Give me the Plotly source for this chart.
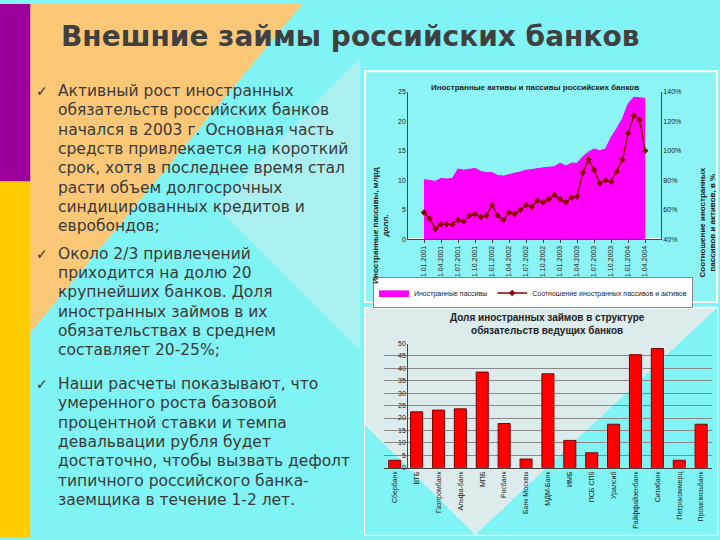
import plotly.graph_objects as go

# top chart: monthly data Jan 2001 - Apr 2004
months = [f"01.{m:02d}.{y}" for y in (2001, 2002, 2003, 2004) for m in range(1, 13)][:40]
liabilities = [10.1, 10.0, 9.8, 10.3, 10.2, 10.3, 11.9, 11.7, 11.9, 12.0,
               11.5, 11.3, 11.3, 10.8, 10.7, 11.0, 11.2, 11.4, 11.7, 11.8,
               12.0, 12.1, 12.2, 12.3, 12.9, 12.4, 12.9, 12.9, 14.0, 14.8,
               15.3, 15.0, 15.3, 17.3, 18.8, 20.5, 23.0, 24.1, 24.0, 23.9]
ratio = [58, 54, 47, 50, 50, 50, 53, 52, 56, 57,
         55, 56, 63, 56, 53, 58, 57, 60, 63, 62,
         66, 65, 67, 70, 67, 65, 68, 69, 85, 94,
         87, 78, 80, 79, 86, 94, 112, 124, 121, 100]
tick_months = months[::3]

# bottom chart
banks = ["Сбербанк", "ВТБ", "Газпромбанк", "Альфа-банк", "МПБ", "Росбанк",
         "Банк Москвы", "МДМ-Банк", "ИМБ", "ПСБ СПб", "Уралсиб",
         "Райффайзенбанк", "Ситибанк", "Петрокоммерц", "Промсвязьбанк"]
foreign_share = [3, 22.5, 23.2, 23.7, 38.5, 17.8, 3.5, 37.8, 11, 6, 17.5, 45.5, 48, 3, 17.5]

title = "Внешние займы российских банков"
bullets = [
    ["Активный рост иностранных", "обязательств российских банков", "начался в 2003 г. Основная часть",
     "средств привлекается на короткий", "срок, хотя в последнее время стал", "расти объем долгосрочных",
     "синдицированных кредитов и", "евробондов;"],
    ["Около 2/3 привлечений", "приходится на долю 20", "крупнейших банков. Доля", "иностранных займов в их",
     "обязательствах в среднем", "составляет 20-25%;"],
    ["Наши расчеты показывают, что", "умеренного роста базовой", "процентной ставки и темпа",
     "девальвации рубля будет", "достаточно, чтобы вызвать дефолт", "типичного российского банка-",
     "заемщика в течение 1-2 лет."],
]
bullet_y = [88, 253, 385]

fig = go.Figure()
fig.add_trace(go.Scatter(x=months, y=liabilities, fill="tozeroy", mode="lines",
                         line=dict(color="#ee00ee", width=1), fillcolor="#ff00ff",
                         name="Иностранные пассивы", xaxis="x", yaxis="y"))
fig.add_trace(go.Scatter(x=months, y=ratio, mode="lines+markers",
                         line=dict(color="#8b0000", width=1.5),
                         marker=dict(symbol="diamond", size=5, color="#8b0000"),
                         name="Соотношение иностранных пассивов и активов",
                         xaxis="x", yaxis="y2"))
fig.add_trace(go.Bar(x=banks, y=foreign_share, marker=dict(color="#ff0000", line=dict(color="#800000", width=1)),
                     width=0.55, showlegend=False, xaxis="x3", yaxis="y3"))

shapes = [
    dict(type="rect", xref="paper", yref="paper", x0=0, x1=1, y0=0, y1=1,
         fillcolor="#80f4f4", line_width=0, layer="below"),
    dict(type="path", xref="paper", yref="paper", path="M 0.04 1 L 0.42 1 L 0.04 0.38 Z",
         fillcolor="#fcc878", line_width=0, layer="below"),
    dict(type="path", xref="paper", yref="paper", path="M 0.30 0.62 L 0.5 0.9 L 0.5 0.35 Z",
         fillcolor="#c8ecec", line_width=0, layer="below", opacity=0.6),
    dict(type="rect", xref="paper", yref="paper", x0=0, x1=0.042, y0=0.667, y1=1,
         fillcolor="#9b009b", line_width=0, layer="below"),
    dict(type="rect", xref="paper", yref="paper", x0=0, x1=0.042, y0=0, y1=0.667,
         fillcolor="#ffcc00", line_width=0, layer="below"),
    # chart boxes
    dict(type="rect", xref="paper", yref="paper", x0=0.507, x1=0.996, y0=0.441, y1=0.874,
         fillcolor="#8cf4f4", line=dict(color="white", width=2), layer="below"),
    dict(type="rect", xref="paper", yref="paper", x0=0.507, x1=0.996, y0=0.004, y1=0.430,
         fillcolor="#dcebeb", line=dict(color="white", width=2), layer="below"),
    dict(type="path", xref="paper", yref="paper", path="M 0.507 0.21 L 0.507 0.004 L 0.66 0.004 Z",
         fillcolor="#80f4f4", line_width=0, layer="below"),
    dict(type="path", xref="paper", yref="paper", path="M 0.66 0.004 L 0.996 0.43 L 0.996 0.004 Z",
         fillcolor="#80f4f4", line_width=0, layer="below"),
]

small = dict(family="Liberation Sans", size=8, color="#222")
annotations = [
    dict(text=f"<b>{title}</b>", x=0.486, y=1 - 33 / 540, xref="paper", yref="paper", showarrow=False,
         xanchor="center", yanchor="middle", font=dict(family="DejaVu Sans", size=28, color="#404040")),
    dict(text="<b>Иностранные активы и пассивы российских банков</b>", x=0.743, y=0.855,
         xref="paper", yref="paper", xanchor="center", showarrow=False, font=small),
    dict(text="<b>Доля иностранных займов в структуре<br>обязательств ведущих банков</b>", x=0.76, y=0.425,
         xref="paper", yref="paper", showarrow=False, yanchor="top", xanchor="center",
         font=dict(family="Liberation Sans", size=10, color="#222")),
    dict(text="<b>Иностранные пассивы, млрд<br>долл.</b>", x=0.528, y=0.697, xref="paper", yref="paper",
         textangle=-90, showarrow=False, xanchor="center", font=small),
    dict(text="<b>Соотношение иностранных<br>пассивов и активов, в %</b>", x=0.982, y=0.697,
         xref="paper", yref="paper", textangle=-90, showarrow=False, xanchor="center", font=small),
]
for lines, y in zip(bullets, bullet_y):
    annotations.append(dict(text="✓", x=34 / 720, y=1 - y / 540, xref="paper", yref="paper",
                            showarrow=False, xanchor="left", yanchor="middle",
                            font=dict(family="DejaVu Sans", size=14, color="#333")))
    for i, line in enumerate(lines):
        annotations.append(dict(text=line, x=56 / 720, y=1 - (y + i * 19.6) / 540, xref="paper", yref="paper",
                                showarrow=False, xanchor="left", yanchor="middle",
                                font=dict(family="DejaVu Sans", size=15.5, color="#3a3a3a")))

tickfont = dict(family="Liberation Sans", size=7, color="#222")
fig.update_layout(
    width=720, height=540, margin=dict(l=0, r=0, t=0, b=0),
    paper_bgcolor="#80f4f4", plot_bgcolor="rgba(0,0,0,0)",
    shapes=shapes, annotations=annotations,
    xaxis=dict(domain=[0.567, 0.918], anchor="y", type="category", tickvals=tick_months,
               tickangle=-90, tickfont=tickfont, showgrid=False, showline=True, linecolor="#444",
               ticks="outside", ticklen=3),
    yaxis=dict(domain=[0.559, 0.835], range=[0, 25], dtick=5, tickfont=tickfont, showgrid=False,
               showline=True, linecolor="#444"),
    yaxis2=dict(overlaying="y", side="right", anchor="x", range=[40, 140], dtick=20, ticksuffix="%",
                tickfont=tickfont, showgrid=False, showline=True, linecolor="#444"),
    xaxis3=dict(domain=[0.533, 0.989], anchor="y3", tickangle=-90, tickfont=tickfont,
                showline=True, linecolor="#444"),
    yaxis3=dict(domain=[0.130, 0.363], range=[0, 50], dtick=5, tickfont=tickfont,
                gridcolor="#888", showline=True, linecolor="#444", zeroline=False),
    legend=dict(orientation="h", x=0.518, y=0.458, xanchor="left", yanchor="middle",
                bgcolor="white", bordercolor="#888", borderwidth=1, entrywidth=0,
                font=dict(family="Liberation Sans", size=7, color="#222")),
)

fig.write_html("out.html", config={"displayModeBar": False},
               post_script="document.body.style.margin='0';")
